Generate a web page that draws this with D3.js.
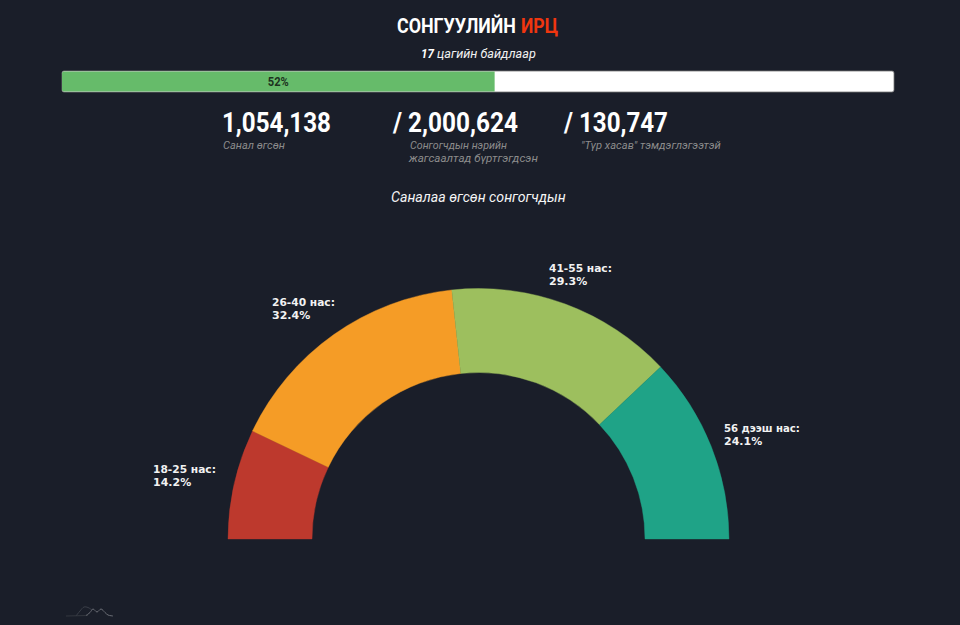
<!DOCTYPE html>
<html><head><meta charset="utf-8">
<script src="https://cdn.jsdelivr.net/npm/d3@7"></script>
<style>html,body{margin:0;padding:0;background:#1a1e29;overflow:hidden}svg{display:block}</style>
</head><body><svg id="c" width="960" height="625"></svg>
<script>
const ageGroups = ["18-25 нас:", "26-40 нас:", "41-55 нас:", "56 дээш нас:"];
const agePercents = [14.2, 32.4, 29.3, 24.1];
const ageColors = ["#bd392d", "#f59c26", "#9dbf5e", "#1fa387"];
const labelAnchors = [[153,473],[272,306],[549,272],[724,432]];
const labelWidths = [63,63,63,76];
const turnoutPercent = 52;
const statNumbers = ["1,054,138", "/ 2,000,624", "/ 130,747"];
const logoBase = [[66,616],[88,615.5]];
const logoHump = [[76,616],[80,611],[84,607],[88,607.5],[92,610]];
const logoPeaks = [[86,615.5],[90,612.5],[93,609],[97,612],[101,609],[105,612.5],[108,615],[113,616]];

const svg = d3.select("#c");
svg.append("rect").attr("width",960).attr("height",625).attr("fill","#1a1e29");

function t(x,y,s,o={}){
  const e = svg.append("text").text(s)
    .attr("font-family",o.family||"Roboto")
    .attr("font-size",o.size||12)
    .attr("font-weight",o.weight||"normal")
    .attr("font-style",o.style||"normal")
    .attr("fill",o.fill||"#fff");
  if(o.anchor) e.attr("text-anchor",o.anchor);
  const sx = o.w ? o.w / e.node().getComputedTextLength() : 1;
  e.attr("transform",`translate(${x},${y}) scale(${sx},1)`);
  return e;
}

// title
t(397,33,"СОНГУУЛИЙН",{size:20,weight:700,w:119});
t(521,33,"ИРЦ",{size:20,weight:700,fill:"#f0360f",w:37});
t(421,58,"17",{size:13,weight:700,style:"italic",w:13});
t(437,58,"цагийн байдлаар",{size:13,style:"italic",fill:"#f2f2f2",w:99});

// progress bar
const x = d3.scaleLinear().domain([0,100]).range([62,894]);
svg.append("rect").attr("x",x(0)).attr("y",71).attr("width",x(100)-x(0)).attr("height",21).attr("rx",2)
  .attr("fill","#fff").attr("stroke","#777").attr("stroke-width",0.8);
svg.append("path").attr("fill","#66bb6a")
  .attr("d",`M${x(turnoutPercent)},71.4H${x(0)+2}Q${x(0)},71.4 ${x(0)},73.4V89.6Q${x(0)},91.6 ${x(0)+2},91.6H${x(turnoutPercent)}Z`);
t(x(turnoutPercent/2),86,turnoutPercent+"%",{size:12,weight:700,fill:"#1d3320",anchor:"middle",w:21});

// stats
t(222,132,statNumbers[0],{size:28,weight:700,w:109});
t(393,132,statNumbers[1],{size:28,weight:700,w:125});
t(564,132,statNumbers[2],{size:28,weight:700,w:104});
const sub = {size:11,style:"italic",fill:"#8c8c8c"};
t(223,149,"Санал өгсөн",{...sub,w:62});
t(410,149,"Сонгогчдын нэрийн",{...sub,w:97});
t(409,162,"жагсаалтад бүртгэгдсэн",{...sub,w:129});
t(581,149,"\"Түр хасав\" тэмдэглэгээтэй",{...sub,w:140});

t(391,202,"Саналаа өгсөн сонгогчдын",{size:14,style:"italic",fill:"#f5f5f5",w:175});

// gauge
const cx=478.5, cy=539;
const pie = d3.pie().sort(null).startAngle(-Math.PI/2).endAngle(Math.PI/2);
const arc = d3.arc().innerRadius(166.5).outerRadius(250.5);
const g = svg.append("g").attr("transform",`translate(${cx},${cy})`);
g.selectAll("path").data(pie(agePercents)).join("path")
  .attr("d",arc).attr("fill",(d,i)=>ageColors[i])
  .attr("stroke",(d,i)=>ageColors[i]).attr("stroke-width",0.4);

ageGroups.forEach((n,i)=>{
  const o={family:"DejaVu Sans",size:11,weight:700,fill:"#f2f2f2"};
  t(labelAnchors[i][0],labelAnchors[i][1],n,{...o,w:labelWidths[i]});
  t(labelAnchors[i][0],labelAnchors[i][1]+13,agePercents[i]+"%",{...o});
});

// faint logo
const line = d3.line().curve(d3.curveCatmullRom);
svg.append("path").attr("d",line(logoBase)).attr("fill","none").attr("stroke","#33373f").attr("stroke-width",1);
svg.append("path").attr("d",line(logoHump)).attr("fill","none").attr("stroke","#3a3e48").attr("stroke-width",1);
svg.append("path").attr("d",line(logoPeaks)).attr("fill","none").attr("stroke","#696c74").attr("stroke-width",1);
</script></body></html>
